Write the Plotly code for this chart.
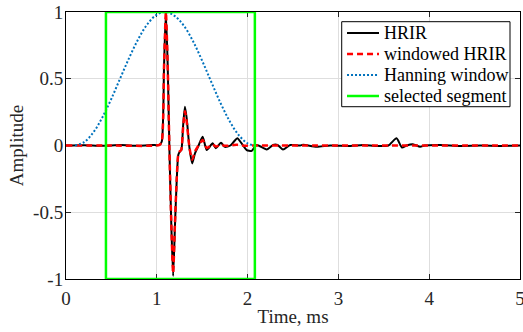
import plotly.graph_objects as go

# ---- data ----
hrir_t = [0.0, 0.2, 0.4, 0.6, 0.8, 0.95, 1.03, 1.055, 1.08, 1.10, 1.12, 1.138, 1.16, 1.18,
          1.20, 1.22, 1.237, 1.255, 1.27, 1.29, 1.31, 1.33, 1.36, 1.39, 1.42, 1.46, 1.505,
          1.55, 1.615, 1.65, 1.707, 1.75, 1.81, 1.85, 1.887, 1.93, 1.99, 2.045, 2.10, 2.21,
          2.28, 2.33, 2.39, 2.47, 2.58, 2.61, 2.76, 2.91, 3.13, 3.27, 3.42, 3.55, 3.64, 3.70,
          3.75, 3.82, 3.90, 3.95, 4.12, 4.34, 4.56, 4.78, 5.0]
hrir = [0.0, 0.002, -0.002, 0.003, -0.002, 0.003, 0.005, 0.03, 0.6, 1.0, 0.6, 0.0, -0.6, -0.977,
        -0.6, -0.25, -0.07, -0.045, -0.035, 0.15, 0.29, 0.2, -0.02, -0.134, -0.06, 0.0, 0.066,
        -0.034, 0.016, -0.02, 0.02, -0.01, 0.0, 0.03, 0.054, 0.02, -0.034, -0.04, 0.004, -0.03,
        0.004, 0.004, -0.03, 0.004, 0.0, 0.006, -0.01, 0.0, -0.004, 0.004, -0.004, 0.0, 0.054, -0.015,
        0.0, 0.01, -0.01, 0.0, 0.004, -0.004, 0.0, -0.003, 0.0]

win_hrir_t = [0.0, 0.44, 1.03, 1.055, 1.08, 1.10, 1.12, 1.138, 1.16, 1.18, 1.20, 1.22, 1.237,
              1.255, 1.27, 1.29, 1.31, 1.33, 1.36, 1.39, 1.42, 1.46, 1.505, 1.55, 1.615, 1.65,
              1.707, 1.75, 1.81, 1.85, 1.887, 1.93, 1.99, 2.045, 2.10, 5.0]
win_hrir = [0.0, 0.0, 0.005, 0.03, 0.6, 1.0, 0.6, 0.0, -0.593, -0.957, -0.581, -0.239, -0.066,
            -0.042, -0.032, 0.135, 0.256, 0.173, -0.017, -0.106, -0.045, 0.0, 0.041, -0.019,
            0.007, -0.008, 0.006, -0.0025, 0.0, 0.004, 0.005, 0.001, -0.001, 0.0, 0.0, 0.0]

hann_t = [0.1, 0.2, 0.3, 0.4, 0.5, 0.6, 0.7, 0.8, 0.9, 1.0, 1.1, 1.2, 1.3, 1.4, 1.5, 1.6,
          1.7, 1.8, 1.9, 2.0, 2.08]
hann = [0.0, 0.025, 0.097, 0.21, 0.351, 0.508, 0.663, 0.802, 0.912, 0.98, 1.0, 0.969, 0.895,
        0.78, 0.634, 0.476, 0.321, 0.185, 0.08, 0.016, 0.0]

seg_start = 0.44
seg_end = 2.08
amp_min = -1.0
amp_max = 1.0

x_ticks = [0, 1, 2, 3, 4, 5]
x_ticktext = ["0", "1", "2", "3", "4", "5"]
y_ticks = [-1, -0.5, 0, 0.5, 1]
y_ticktext = ["-1", "-0.5", "0", "0.5", "1"]

legend_labels = ["HRIR", "windowed HRIR", "Hanning window", "selected segment"]

FONT = "Liberation Serif"
TXT = "#262626"

styles = [
    dict(color="black", width=2),
    dict(color="#FF0000", width=2.5, dash="6px,4px"),
    dict(color="#0072BD", width=2, dash="2px,2px"),
    dict(color="#00FF00", width=2.5),
]

fig = go.Figure()
fig.add_trace(go.Scatter(x=hrir_t, y=hrir, mode="lines", name=legend_labels[0],
                         line=dict(**styles[0], shape="spline", smoothing=0.6)))
fig.add_trace(go.Scatter(x=win_hrir_t, y=win_hrir, mode="lines", name=legend_labels[1],
                         line=dict(**styles[1], shape="spline", smoothing=0.6)))
fig.add_trace(go.Scatter(x=hann_t, y=hann, mode="lines", name=legend_labels[2],
                         line=dict(**styles[2], shape="spline")))
fig.add_trace(go.Scatter(x=[seg_start, seg_start, seg_end, seg_end, seg_start],
                         y=[amp_min, amp_max, amp_max, amp_min, amp_min],
                         mode="lines", name=legend_labels[3], line=styles[3]))

axis_common = dict(showline=True, linecolor="black", linewidth=1, mirror="ticks",
                   ticks="inside", ticklen=5, tickcolor="#262626", showgrid=True,
                   gridcolor="#dedede", gridwidth=1, zeroline=False,
                   tickfont=dict(family=FONT, size=19, color=TXT),
                   layer="below traces")

fig.update_xaxes(range=[0, 5], tickvals=x_ticks, ticktext=x_ticktext,
                 title=dict(text="Time, ms", font=dict(family=FONT, size=19, color=TXT),
                            standoff=1),
                 ticklabelstandoff=2, ticklabeloverflow="allow", **axis_common)
fig.update_yaxes(range=[amp_min, amp_max], tickvals=y_ticks, ticktext=y_ticktext,
                 title=dict(text="Amplitude", font=dict(family=FONT, size=19, color=TXT),
                            standoff=4),
                 ticklabelstandoff=-2, ticklabeloverflow="allow", **axis_common)

# custom legend box (MATLAB-like compact spacing)
box_x0, box_x1, box_y0, box_y1 = 0.6073, 0.978, 0.6453, 0.9637
row_y = [0.9213, 0.8427, 0.7640, 0.6854]
samp_x0, samp_x1, text_x = 0.619, 0.6894, 0.696

shapes = [dict(type="rect", xref="paper", yref="paper", x0=box_x0, x1=box_x1,
               y0=box_y0, y1=box_y1, line=dict(color="black", width=1),
               fillcolor="white", layer="above")]
annotations = []
for lab, st, yy in zip(legend_labels, styles, row_y):
    shapes.append(dict(type="line", xref="paper", yref="paper", x0=samp_x0, x1=samp_x1,
                       y0=yy, y1=yy, line=st, layer="above"))
    annotations.append(dict(text=lab, xref="paper", yref="paper", x=text_x, y=yy,
                            xanchor="left", yanchor="middle", showarrow=False,
                            font=dict(family=FONT, size=18, color="black")))

fig.update_layout(
    width=523, height=332,
    margin=dict(l=66, r=3, t=12, b=53, autoexpand=False),
    plot_bgcolor="white", paper_bgcolor="white",
    font=dict(family=FONT, size=19, color="black"),
    showlegend=False,
    shapes=shapes, annotations=annotations,
)

fig.write_html("out.html", config={"displayModeBar": False},
               post_script="document.body.style.margin='0px';")
